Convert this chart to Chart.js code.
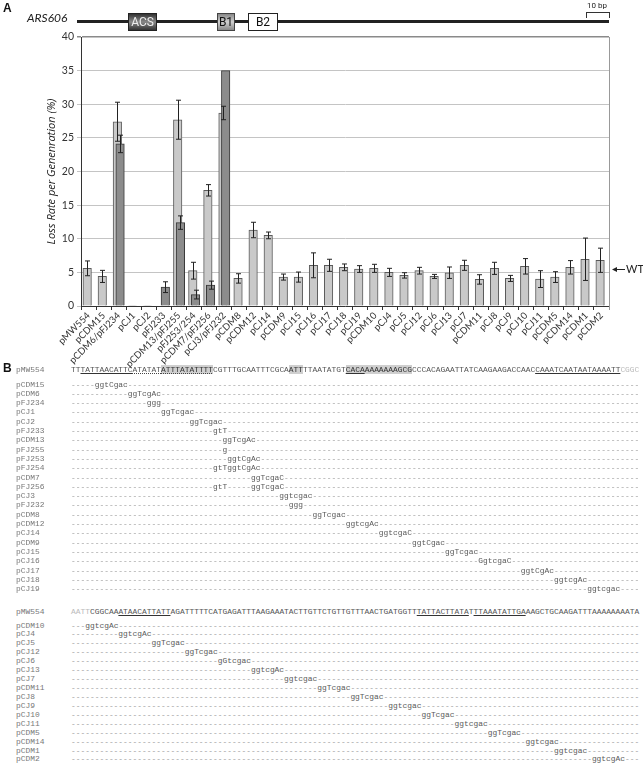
<!DOCTYPE html>
<html><head><meta charset="utf-8">
<script src="https://cdn.jsdelivr.net/npm/chart.js@4"></script>
<style>
body{margin:0;background:#fff;width:643px;height:763px;overflow:hidden;position:relative;}
#chartBox{position:absolute;left:0;top:0;width:643px;height:368px;}
.abs{position:absolute;z-index:2;}
.hdrbox{position:absolute;z-index:2;box-sizing:border-box;text-align:center;font-family:'Liberation Sans Narrow','Roboto',sans-serif;font-size:12px;line-height:17px;}
.row{position:absolute;z-index:2;height:9px;line-height:9px;font-family:'Liberation Mono',monospace;font-size:7.9px;white-space:pre;}
.lab{left:16px;color:#777;}
.seq{left:71px;color:#555;}
.mut{left:71px;color:#9a9a9a;}
.mut b{font-weight:normal;color:#5a5a5a;}
.sh{background:#cfcfcf;color:#333;}
.ul{text-decoration:underline;text-decoration-color:#333;text-underline-offset:1px;}
.dt{text-decoration:underline dotted;text-decoration-color:#444;text-underline-offset:1px;}
.fd{color:#bbb;}
</style></head>
<body>
<div id="chartBox"><canvas id="c"></canvas></div>

<!-- Panel A header -->
<div class="abs" style="left:3px;top:1px;font:bold 12px 'Liberation Sans',sans-serif;color:#111;">A</div>
<div class="abs" style="left:27px;top:10px;font:italic 12px 'Lato',sans-serif;color:#222;">ARS606</div>
<div class="abs" style="left:77px;top:20px;width:532px;height:3px;background:#222;"></div>
<div class="hdrbox" style="left:128px;top:13px;width:29px;height:18px;background:linear-gradient(#333,#888 50%,#333);border:1px solid #222;color:#eee;">ACS</div>
<div class="hdrbox" style="left:217px;top:13px;width:18px;height:18px;background:linear-gradient(#888,#d0d0d0 50%,#888);border:1px solid #444;color:#111;">B1</div>
<div class="hdrbox" style="left:248px;top:13px;width:30px;height:18px;background:#fff;border:1px solid #222;color:#111;">B2</div>
<div class="abs" style="left:586px;top:12px;width:22px;height:5px;border-top:1.5px solid #333;border-left:1px solid #333;border-right:1px solid #333;"></div>
<div class="abs" style="left:587px;top:1px;font:8px 'Liberation Sans Narrow','Roboto',sans-serif;color:#222;">10 bp</div>

<!-- Panel B -->
<div class="abs" style="left:3px;top:361px;font:bold 12px 'Liberation Sans',sans-serif;color:#111;">B</div>
<div id="panelB"></div>

<script>
// ---------- Panel A data ----------
const categories = ['pMW554','pCDM15','pCDM6/pFJ234','pCJ1','pCJ2','pFJ233','pCDM13/pFJ255','pFJ253/254','pCDM7/pFJ256','pCJ3/pFJ232','pCDM8','pCDM12','pCJ14','pCDM9','pCJ15','pCJ16','pCJ17','pCJ18','pCJ19','pCDM10','pCJ4','pCJ5','pCJ12','pCJ6','pCJ13','pCJ7','pCDM11','pCJ8','pCJ9','pCJ10','pCJ11','pCDM5','pCDM14','pCDM1','pCDM2'];
const lightValues = [5.6,4.4,27.4,0.08,0.08,null,27.7,5.25,17.2,28.7,4.1,11.3,10.5,4.3,4.3,6.05,6.05,5.75,5.5,5.6,5.0,4.55,5.25,4.4,4.95,6.05,3.95,5.6,4.1,5.9,4.0,4.3,5.75,6.95,6.8];
const lightErrors = [1.1,0.9,2.9,0,0,null,2.9,1.25,0.85,1.0,0.7,1.15,0.5,0.45,0.75,1.85,0.9,0.5,0.5,0.6,0.6,0.4,0.5,0.3,0.85,0.75,0.7,0.9,0.45,1.15,1.25,0.8,1.0,3.15,1.8];
const darkValues = [null,null,24.1,null,null,2.8,12.4,1.7,3.1,35,null,null,null,null,null,null,null,null,null,null,null,null,null,null,null,null,null,null,null,null,null,null,null,null,null];
const darkErrors = [null,null,1.3,null,null,0.8,1.0,0.65,0.6,0,null,null,null,null,null,null,null,null,null,null,null,null,null,null,null,null,null,null,null,null,null,null,null,null,null];
const yTicks = [0,5,10,15,20,25,30,35,40];
const wtLevel = 5.45;
const yTitle = 'Loss Rate per Genenration (%)';

// ---------- Panel B data ----------
const seq1 = 'TTTATTAACATTCATATATATTTATATTTTCGTTTGCAATTTCGCAATTTTAATATGTCACAAAAAAAAGCGCCCACAGAATTATCAAGAAGACCAACCAAATCAATAATAAAATTCGGC';
const seq2 = 'AATTCGGCAAATAACATTATTAGATTTTTCATGAGATTTAAGAAATACTTGTTCTGTTGTTTAACTGATGGTTTATTACTTATATTTAAATATTGAAAGCTGCAAGATTTAAAAAAAATA';
const rows1 = [
 ['pCDM15',5,'ggtCgac'],['pCDM6',12,'ggTcgAc'],['pFJ234',16,'ggg'],['pCJ1',19,'ggTcgac'],['pCJ2',25,'ggTcgac'],
 ['pFJ233',30,'gtT'],['pCDM13',32,'ggTcgAc'],['pFJ255',32,'g'],['pFJ253',33,'ggtCgAc'],['pFJ254',30,'gtTggtCgAc'],
 ['pCDM7',38,'ggTcgaC'],['pFJ256',30,'gtT-----ggTcgaC'],['pCJ3',44,'ggtcgac'],['pFJ232',46,'ggg'],['pCDM8',51,'ggTcgac'],
 ['pCDM12',58,'ggtcgAc'],['pCJ14',65,'ggtcgaC'],['pCDM9',72,'ggtCgac'],['pCJ15',79,'ggTcgac'],['pCJ16',86,'GgtcgaC'],
 ['pCJ17',95,'ggtCgAc'],['pCJ18',102,'ggtcgAc'],['pCJ19',109,'ggtcgac']
];
const rows2 = [
 ['pCDM10',3,'ggtcgAc'],['pCJ4',10,'ggtcgAc'],['pCJ5',17,'ggTcgac'],['pCJ12',24,'ggTcgac'],['pCJ6',31,'gGtcgac'],
 ['pCJ13',38,'ggtcgAc'],['pCJ7',45,'ggtcgac'],['pCDM11',52,'ggTcgac'],['pCJ8',59,'ggTcgac'],['pCJ9',67,'ggtcgac'],
 ['pCJ10',74,'ggTcgac'],['pCJ11',81,'ggtcgac'],['pCDM5',88,'ggTcgac'],['pCDM14',96,'ggtcgac'],['pCDM1',102,'ggtcgac'],
 ['pCDM2',110,'ggtcgAc']
];
const marks1 = {sh:[[19,29],[46,48],[58,71]], ul:[[2,12],[58,61],[98,115]], dt:[[13,29]], fd:[[116,119]]};
const marks2 = {sh:[], ul:[[10,20],[73,83],[85,95]], dt:[], fd:[[0,3]]};

// ---------- Chart ----------
const OFF = 0.09;
const lightData = [], darkData = [];
categories.forEach((c,i)=>{
  if (lightValues[i]!=null) lightData.push({x:i-OFF, y:lightValues[i], err:lightErrors[i]});
  if (darkValues[i]!=null) darkData.push({x:i+OFF, y:darkValues[i], err:darkErrors[i]});
});

const errorBars = {
  id:'errorBars',
  afterDatasetsDraw(chart){
    const ctx = chart.ctx, ys = chart.scales.y;
    ctx.save();
    ctx.strokeStyle = '#222'; ctx.lineWidth = 1;
    chart.data.datasets.forEach((ds,di)=>{
      const meta = chart.getDatasetMeta(di);
      meta.data.forEach((el,j)=>{
        const d = ds.data[j];
        if (!d.err) return;
        const x = Math.round(el.x)+0.5;
        const t = ys.getPixelForValue(d.y+d.err), b = ys.getPixelForValue(d.y-d.err);
        ctx.beginPath();
        ctx.moveTo(x,t); ctx.lineTo(x,b);
        ctx.moveTo(x-2.5,t); ctx.lineTo(x+2.5,t);
        ctx.moveTo(x-2.5,b); ctx.lineTo(x+2.5,b);
        ctx.stroke();
      });
    });
    ctx.restore();
  }
};
const frame = {
  id:'frame',
  afterDraw(chart){
    const ctx = chart.ctx, a = chart.chartArea, ys = chart.scales.y;
    ctx.save();
    ctx.strokeStyle = '#999'; ctx.lineWidth = 1;
    ctx.beginPath(); ctx.moveTo(a.right+0.5, a.top); ctx.lineTo(a.right+0.5, a.bottom+4); ctx.stroke();
    const y = Math.round(ys.getPixelForValue(wtLevel))+0.5;
    const x0 = a.right + 3, x1 = a.right + 16;
    ctx.strokeStyle = '#222'; ctx.fillStyle = '#222';
    ctx.beginPath(); ctx.moveTo(x0+3,y); ctx.lineTo(x1,y); ctx.stroke();
    ctx.beginPath(); ctx.moveTo(x0,y); ctx.lineTo(x0+5,y-2.5); ctx.lineTo(x0+5,y+2.5); ctx.closePath(); ctx.fill();
    ctx.font = "11px 'Lato', sans-serif"; ctx.textBaseline = 'middle'; ctx.textAlign='left';
    ctx.fillText('WT', x1+1, y);
    ctx.restore();
  }
};

new Chart(document.getElementById('c'), {
  type:'bar',
  data:{
    labels: categories,
    datasets:[
      {label:'mutant (dark)', data:darkData, xAxisID:'xl', backgroundColor:'#8c8c8c', borderColor:'#3a3a3a', borderWidth:1, barThickness:8.5, grouped:false},
      {label:'mutant (light)', data:lightData, xAxisID:'xl', backgroundColor:'#c9c9c9', borderColor:'#5a5a5a', borderWidth:1, barThickness:8.5, grouped:false}
    ]
  },
  options:{
    responsive:true, maintainAspectRatio:false, animation:false,
    layout:{padding:{left:0,right:34,top:37,bottom:0}},
    plugins:{legend:{display:false}, tooltip:{enabled:false}},
    scales:{
      xl:{type:'linear', min:-0.5, max:categories.length-0.5, offset:false, display:false},
      x:{type:'category', labels:categories, offset:true, position:'bottom',
         afterFit(s){ s.height = 62; },
         grid:{offset:true, drawOnChartArea:false, tickLength:4, color:'#333'},
         border:{color:'#333', width:1},
         ticks:{autoSkip:false, minRotation:45, maxRotation:45, padding:0, color:'#333', font:{family:'Lato', size:9.5}}
      },
      y:{min:0, max:40,
         afterFit(s){ s.width = 81; },
         afterBuildTicks(s){ s.ticks = yTicks.map(v=>({value:v})); },
         grid:{color:(c)=> c.tick && c.tick.value===40 ? '#8a8a8a' : '#c4c4c4', lineWidth:(c)=> c.tick && c.tick.value===40 ? 1.5 : 1, tickLength:4},
         border:{color:'#333', width:1},
         ticks:{padding:3, color:'#333', font:{family:'Lato', size:10.5}},
         title:{display:true, text:yTitle, color:'#222', font:{family:'Open Sans', size:11, style:'italic'}, padding:{top:45,bottom:0}}
      }
    }
  },
  plugins:[errorBars, frame]
});

// ---------- Panel B rendering ----------
const panel = document.getElementById('panelB');
function addDiv(cls, top, html){
  const d = document.createElement('div');
  d.className = 'row ' + cls; d.style.top = (top-4.5)+'px'; d.innerHTML = html;
  panel.appendChild(d);
}
function inR(r,i){ return r.some(([a,b])=> i>=a && i<=b); }
function markSeq(seq, m){
  let out = '', cur = null, buf = '';
  for (let i=0;i<seq.length;i++){
    const cls = [inR(m.sh,i)?'sh':'', inR(m.ul,i)?'ul':'', inR(m.dt,i)&&!inR(m.ul,i)?'dt':'', inR(m.fd,i)?'fd':''].filter(Boolean).join(' ');
    if (cls!==cur){ if (buf) out += cur ? `<span class="${cur}">${buf}</span>` : buf; buf=''; cur=cls; }
    buf += seq[i];
  }
  if (buf) out += cur ? `<span class="${cur}">${buf}</span>` : buf;
  return out;
}
function mutRow(len, off, s){
  const pre = '-'.repeat(off), post = '-'.repeat(Math.max(0,len-off-s.length));
  const body = s.replace(/[A-Za-z]+/g, m=>`<b>${m}</b>`);
  return pre + body + post;
}
function block(seq, marks, rows, yHead, yFirst, step){
  addDiv('lab', yHead, 'pMW554');
  addDiv('seq', yHead, markSeq(seq, marks));
  rows.forEach((r,k)=>{
    const y = yFirst + k*step;
    addDiv('lab', y, r[0]);
    addDiv('mut', y, mutRow(seq.length, r[1], r[2]));
  });
}
block(seq1, marks1, rows1, 369, 384, 9.3);
block(seq2, marks2, rows2, 611, 625, 8.93);
</script>
</body></html>
